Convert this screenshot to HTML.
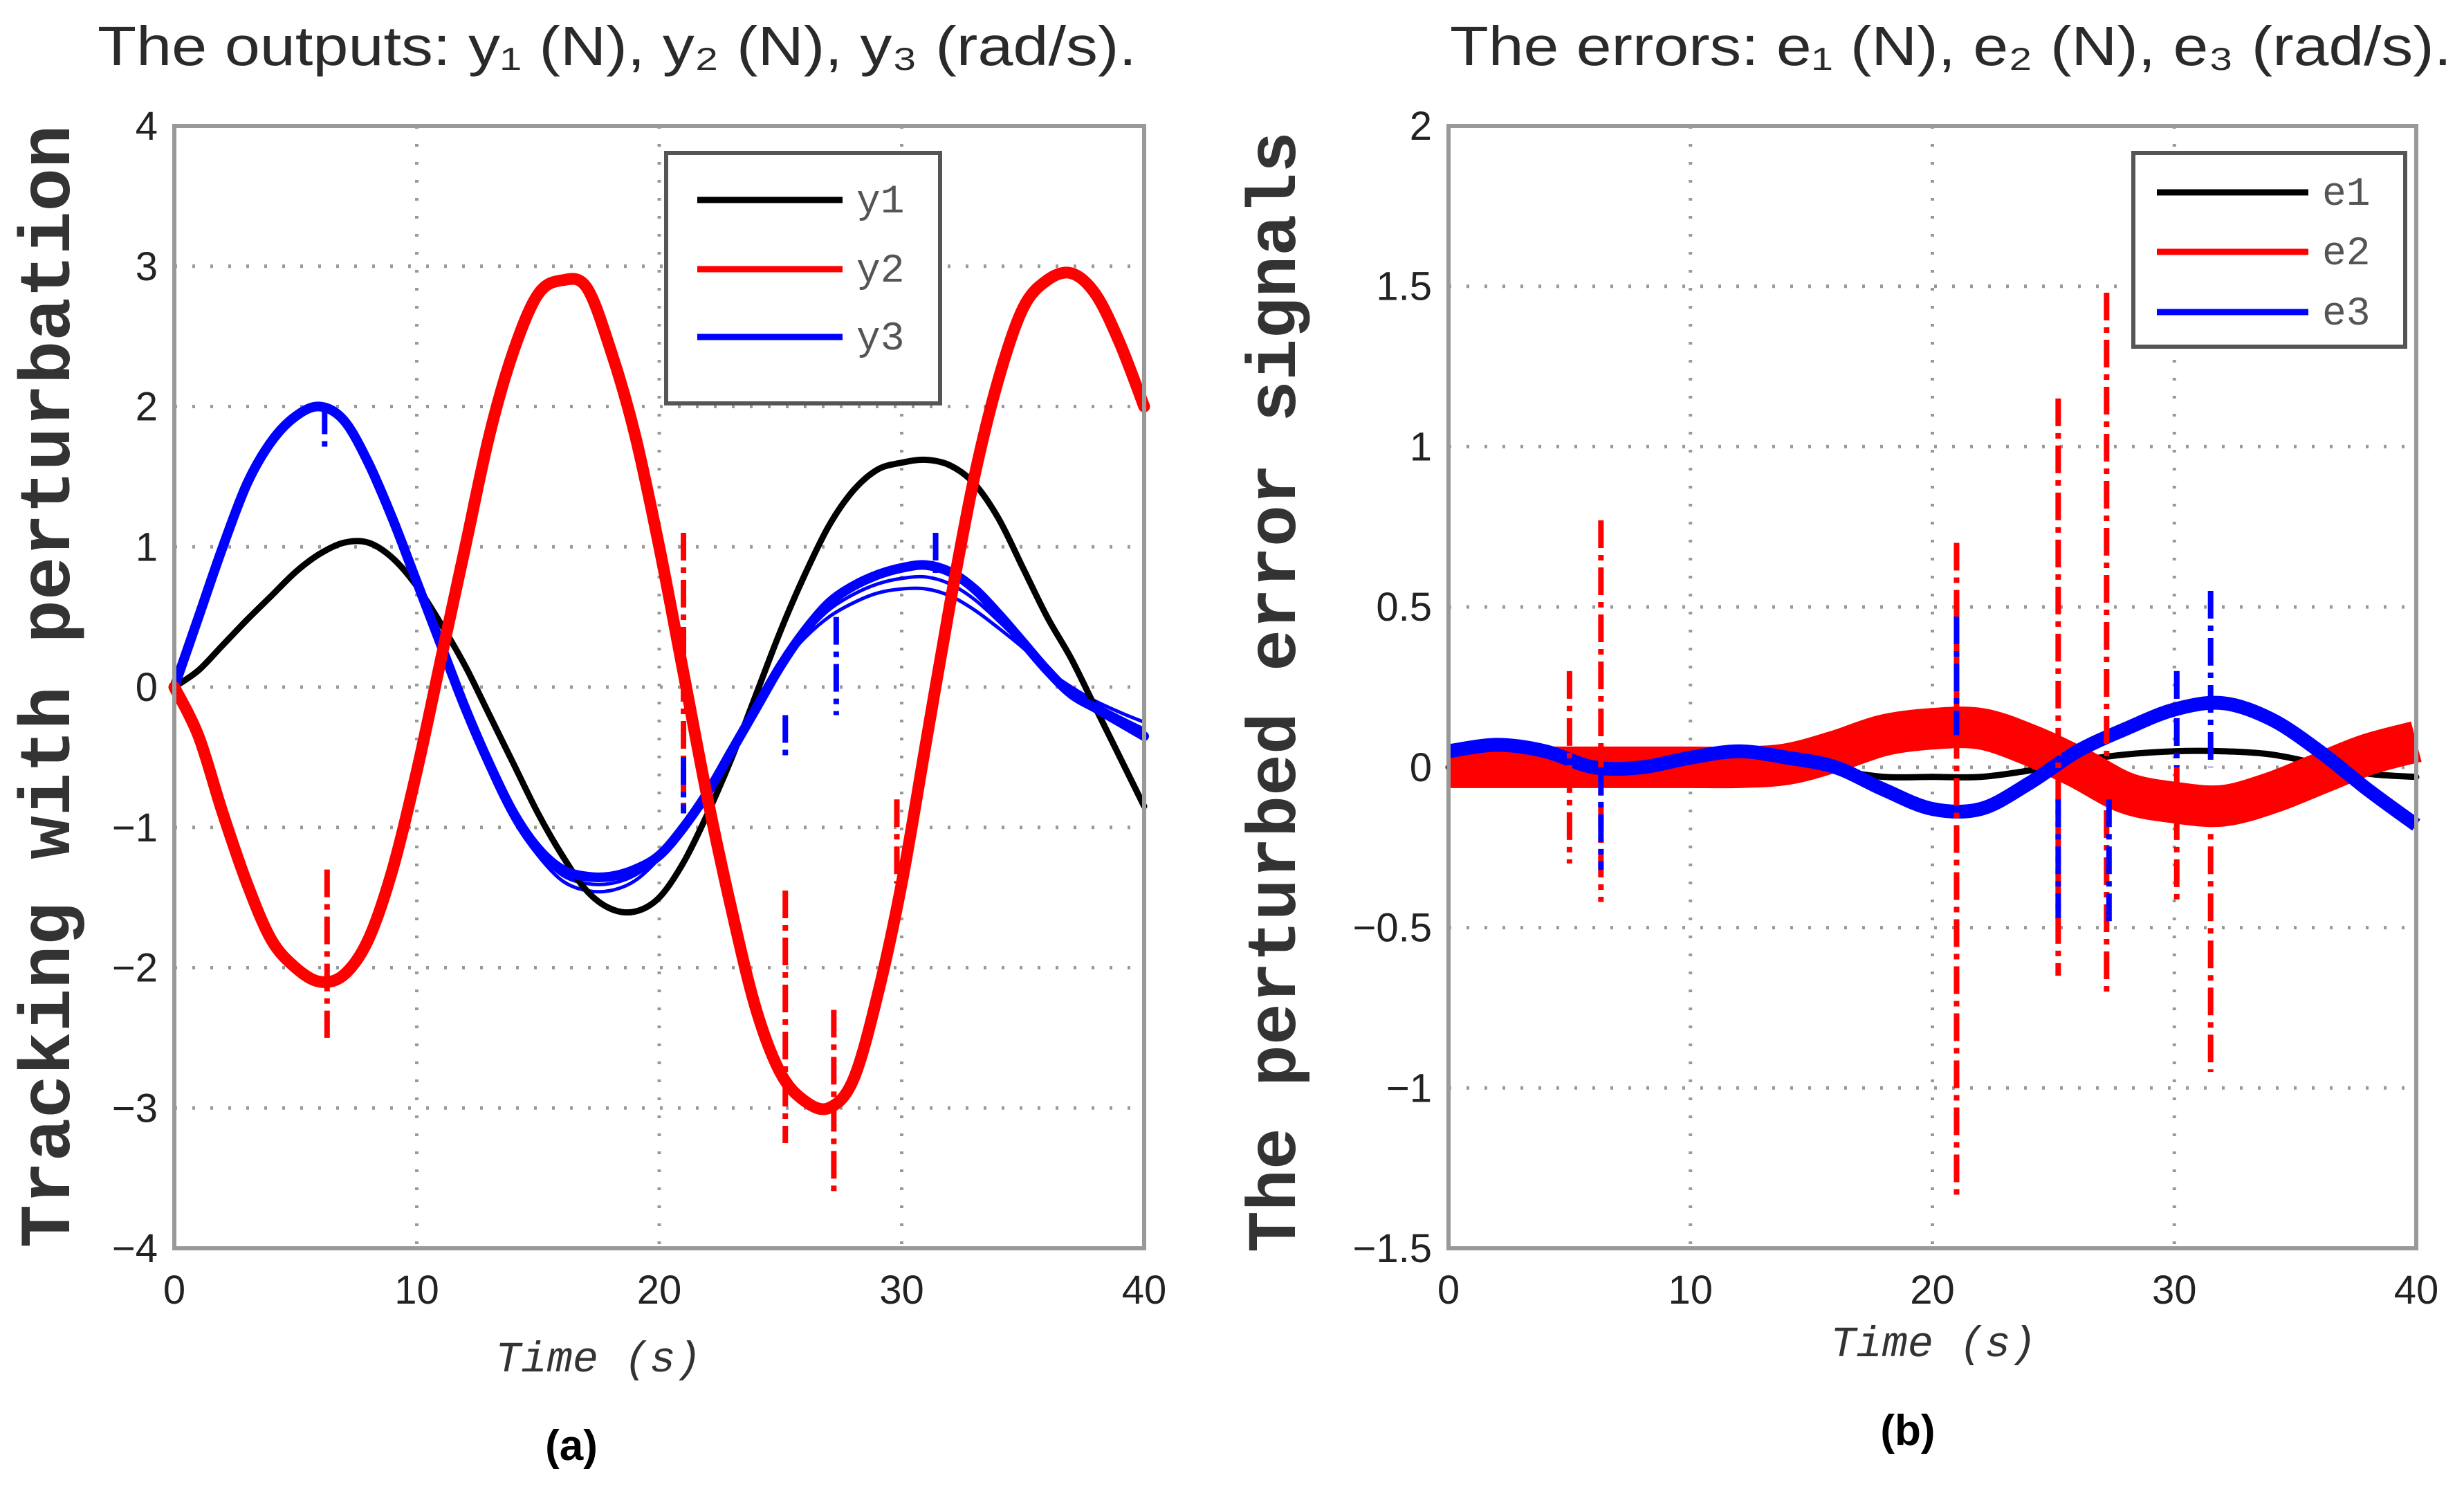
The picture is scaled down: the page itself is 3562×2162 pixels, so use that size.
<!DOCTYPE html>
<html><head><meta charset="utf-8"><style>
html,body{margin:0;padding:0;background:#fff}
svg{display:block}
</style></head><body>
<svg id="chart" xmlns="http://www.w3.org/2000/svg" width="3562" height="2162" viewBox="0 0 3562 2162">
<rect width="3562" height="2162" fill="#fff"/>
<text x="141" y="94" font-family="Liberation Sans, sans-serif" font-size="80" fill="#2a2a2a" textLength="1502" lengthAdjust="spacingAndGlyphs">The outputs: y₁ (N), y₂ (N), y₃ (rad/s).</text>
<text x="2096" y="94" font-family="Liberation Sans, sans-serif" font-size="80" fill="#2a2a2a" textLength="1448" lengthAdjust="spacingAndGlyphs">The errors: e₁ (N), e₂ (N), e₃ (rad/s).</text>
<g id="left"></g>
<g id="right"></g>
<text x="826" y="2110" font-family="Liberation Sans, sans-serif" font-weight="bold" font-size="62" text-anchor="middle">(a)</text>
<text x="2758" y="2088" font-family="Liberation Sans, sans-serif" font-weight="bold" font-size="62" text-anchor="middle">(b)</text>
</svg>
<script>
// ---- data: left panel ----
const tL = [0,1,2,3,4,5,6,7,8,9,10,11,12,13,14,15,16,17,18,19,20,21,22,23,24,25,26,27,28,29,30,31,32,33,34,35,36,37,38,39,40];
const y1 = [0,0.12,0.3,0.48,0.65,0.82,0.95,1.03,1.03,0.92,0.72,0.45,0.15,-0.2,-0.55,-0.9,-1.2,-1.45,-1.58,-1.6,-1.5,-1.25,-0.9,-0.5,-0.05,0.4,0.8,1.15,1.4,1.55,1.6,1.62,1.58,1.45,1.2,0.85,0.5,0.2,-0.15,-0.5,-0.85];
const y2 = [0,-0.35,-0.9,-1.4,-1.8,-2.0,-2.1,-2.05,-1.8,-1.3,-0.6,0.2,1.0,1.8,2.4,2.8,2.9,2.85,2.4,1.8,1.0,0.1,-0.8,-1.6,-2.3,-2.75,-2.95,-3.0,-2.8,-2.2,-1.4,-0.4,0.6,1.5,2.2,2.7,2.9,2.95,2.8,2.45,2.0];
const y3 = [0,0.5,1.0,1.45,1.75,1.93,2.0,1.9,1.6,1.2,0.75,0.3,-0.15,-0.55,-0.9,-1.15,-1.3,-1.35,-1.35,-1.3,-1.2,-1.0,-0.75,-0.45,-0.15,0.15,0.4,0.6,0.72,0.8,0.85,0.87,0.82,0.7,0.52,0.32,0.12,-0.05,-0.15,-0.25,-0.35];
const y3ref = [0,0.5,1.0,1.45,1.75,1.93,2.0,1.9,1.6,1.2,0.75,0.3,-0.15,-0.6,-0.95,-1.2,-1.38,-1.45,-1.45,-1.38,-1.22,-1.0,-0.72,-0.42,-0.12,0.15,0.35,0.5,0.6,0.67,0.7,0.7,0.65,0.55,0.42,0.28,0.12,0.0,-0.1,-0.18,-0.25];
const spikeTL = [6.3,21,25.2,27.2,29.8];
const spikeTopL = [-1.3,1.1,-1.45,-2.3,-0.8];
const spikeBotL = [-2.5,-0.9,-3.25,-3.6,-1.4];
const bspikeTL = [6.2,21,25.2,27.3,31.4];
const bspikeTopL = [2.0,-0.5,-0.2,0.5,1.1];
const bspikeBotL = [1.7,-0.9,-0.5,-0.2,0.8];
const xTicksL = [0,10,20,30,40];
const yTicksL = [-4,-3,-2,-1,0,1,2,3,4];
// ---- data: right panel ----
const tR = [0,2,4,6,8,10,12,14,16,18,20,22,24,26,28,30,32,34,36,38,40];
const e1 = [0,0,0,0,0,0,0,0,-0.01,-0.03,-0.03,-0.03,-0.01,0.02,0.04,0.05,0.05,0.04,0.01,-0.02,-0.03];
const e2 = [0,0,0,0,0,0,0,0.01,0.05,0.1,0.12,0.12,0.07,0,-0.08,-0.11,-0.12,-0.08,-0.02,0.04,0.08];
const e3 = [0.05,0.07,0.05,0.0,0.0,0.03,0.05,0.03,0.0,-0.07,-0.13,-0.13,-0.05,0.05,0.12,0.18,0.2,0.15,0.05,-0.07,-0.18];
const spikeTR = [5,6.3,21,25.2,27.2,30.1,31.5];
const spikeTopR = [0.3,0.77,0.7,1.15,1.48,0.3,-0.1];
const spikeBotR = [-0.3,-0.42,-1.35,-0.65,-0.7,-0.42,-0.95];
const bspikeTR = [6.3,21,25.2,27.3,30.1,31.5];
const bspikeTopR = [0,0.47,-0.1,-0.1,0.3,0.55];
const bspikeBotR = [-0.32,0.1,-0.47,-0.5,0,0];
const xTicksR = [0,10,20,30,40];
const yTicksR = [-1.5,-1,-0.5,0,0.5,1,1.5,2];
const yTickLabR = ["\u22121.5","\u22121","\u22120.5","0","0.5","1","1.5","2"];

const NS='http://www.w3.org/2000/svg';
function mk(parent,tag,attrs,txt){const e=document.createElementNS(NS,tag);for(const k in attrs)e.setAttribute(k,attrs[k]);if(txt!==undefined)e.textContent=txt;parent.appendChild(e);return e;}
function smooth(pts){let d='M'+pts[0][0].toFixed(1)+','+pts[0][1].toFixed(1);for(let i=0;i<pts.length-1;i++){const p0=pts[Math.max(0,i-1)],p1=pts[i],p2=pts[i+1],p3=pts[Math.min(pts.length-1,i+2)];const c1=[p1[0]+(p2[0]-p0[0])/6,p1[1]+(p2[1]-p0[1])/6],c2=[p2[0]-(p3[0]-p1[0])/6,p2[1]-(p3[1]-p1[1])/6];d+='C'+c1[0].toFixed(1)+','+c1[1].toFixed(1)+' '+c2[0].toFixed(1)+','+c2[1].toFixed(1)+' '+p2[0].toFixed(1)+','+p2[1].toFixed(1);}return d;}

function panel(g,cfg){
  const X=v=>cfg.x0+(v-cfg.xmin)/(cfg.xmax-cfg.xmin)*(cfg.x1-cfg.x0);
  const Y=v=>cfg.y1-(v-cfg.ymin)/(cfg.ymax-cfg.ymin)*(cfg.y1-cfg.y0);
  cfg.xt.forEach(v=>{const l=mk(g,'line',{x1:X(v),x2:X(v),y1:cfg.y0,y2:cfg.y1,stroke:'#999','stroke-width':5,'stroke-dasharray':'4 22'});
    
    
    const t=mk(g,'text',{x:X(v),y:cfg.y1+80,'font-family':'Liberation Sans, sans-serif','font-size':58,'text-anchor':'middle',fill:'#222'},String(v));
    
    });
  cfg.yt.forEach((v,i)=>{const l=mk(g,'line',{x1:cfg.x0,x2:cfg.x1,y1:Y(v),y2:Y(v),stroke:'#999','stroke-width':5,'stroke-dasharray':'4 22'});
    
    
    const t=mk(g,'text',{x:cfg.x0-24,y:Y(v)+20,'font-family':'Liberation Sans, sans-serif','font-size':58,'text-anchor':'end',fill:'#222'},cfg.yl[i]);
    
    });
  cfg.draw(X,Y);
  const b=mk(g,'rect',{x:cfg.x0,y:cfg.y0,width:cfg.x1-cfg.x0,height:cfg.y1-cfg.y0,fill:'none',stroke:'#999','stroke-width':6});
  
  
}
function series(g,xs,ys,X,Y,color,w,name,cap){const p=mk(g,'path',{d:smooth(xs.map((t,i)=>[X(t),Y(ys[i])])),fill:'none',stroke:color,'stroke-width':w,'stroke-linejoin':'round','stroke-linecap':cap||'round'});
  
  }
function spikes(g,ts,tops,bots,X,Y,color,name){ts.forEach((t,i)=>{const l=mk(g,'line',{x1:X(t),x2:X(t),y1:Y(tops[i]),y2:Y(bots[i]),stroke:color,'stroke-width':8,'stroke-dasharray':'40 10 8 10'});
  
  });}

const gl=document.getElementById('left');
panel(gl,{x0:252,x1:1654,y0:182,y1:1804,xmin:0,xmax:40,ymin:-4,ymax:4,xt:xTicksL,yt:yTicksL,yl:yTicksL.map(v=>v<0?'\u2212'+(-v):String(v)),
 draw:(X,Y)=>{
  series(gl,tL,y3ref,X,Y,'#0000ff',5,'y3-reference-a');
  series(gl,tL,y3ref.map((v,i)=>(v+y3[i])/2),X,Y,'#0000ff',5,'y3-reference-b');
  series(gl,tL,y1,X,Y,'#000',9,'y1-line');
  series(gl,tL,y3,X,Y,'#0000ff',14,'y3-line');
  series(gl,tL,y2,X,Y,'#ff0000',17,'y2-line');
  spikes(gl,spikeTL,spikeTopL,spikeBotL,X,Y,'#ff0000','y2-spike');
  spikes(gl,bspikeTL,bspikeTopL,bspikeBotL,X,Y,'#0000ff','y3-spike');
 }});
const gr=document.getElementById('right');
panel(gr,{x0:2094,x1:3493,y0:182,y1:1804,xmin:0,xmax:40,ymin:-1.5,ymax:2,xt:xTicksR,yt:yTicksR,yl:yTickLabR,
 draw:(X,Y)=>{
  series(gr,tR,e1,X,Y,'#000',9,'e1-line');
  series(gr,tR,e2,X,Y,'#ff0000',60,'e2-band','butt');
  series(gr,tR,e3,X,Y,'#0000ff',20,'e3-line','butt');
  spikes(gr,spikeTR,spikeTopR,spikeBotR,X,Y,'#ff0000','e2-spike');
  spikes(gr,bspikeTR,bspikeTopR,bspikeBotR,X,Y,'#0000ff','e3-spike');
 }});

function legend(g,x,y,w,h,rows,lx0,lx1,tx,names,colors){
  const r=mk(g,'rect',{x:x,y:y,width:w,height:h,fill:'#fff',stroke:'#555','stroke-width':6});
  
  
  names.forEach((n,i)=>{const l=mk(g,'line',{x1:lx0,x2:lx1,y1:rows[i],y2:rows[i],stroke:colors[i],'stroke-width':9});
    
    
    const t=mk(g,'text',{x:tx,y:rows[i]+18,'font-family':'Liberation Mono, monospace','font-size':58,fill:'#555'},n);
    
    });
}
legend(gl,963,221,396,362,[289,389,487],1008,1218,1238,['y1','y2','y3'],['#000','#ff0000','#0000ff']);
legend(gr,3084,221,393,280,[278,364,451],3118,3337,3357,['e1','e2','e3'],['#000','#ff0000','#0000ff']);

const lab=(x,y,txt,rot,size,style,weight,name)=>{const t=mk(document.getElementById('chart'),'text',{x:x,y:y,'font-family':'Liberation Mono, monospace','font-size':size,'font-style':style,'font-weight':weight,'text-anchor':'middle',fill:'#333',transform:rot?`rotate(-90 ${x} ${y})`:''},txt);
  
  };
lab(865,1982,'Time (s)',false,62,'italic','normal','left-x-axis-title');
lab(2795,1960,'Time (s)',false,62,'italic','normal','right-x-axis-title');
lab(100,992,'Tracking  with perturbation',true,104,'normal','bold','left-y-axis-title');
lab(1872,1000,'The perturbed error signals',true,100,'normal','bold','right-y-axis-title');
</script>
</body></html>
